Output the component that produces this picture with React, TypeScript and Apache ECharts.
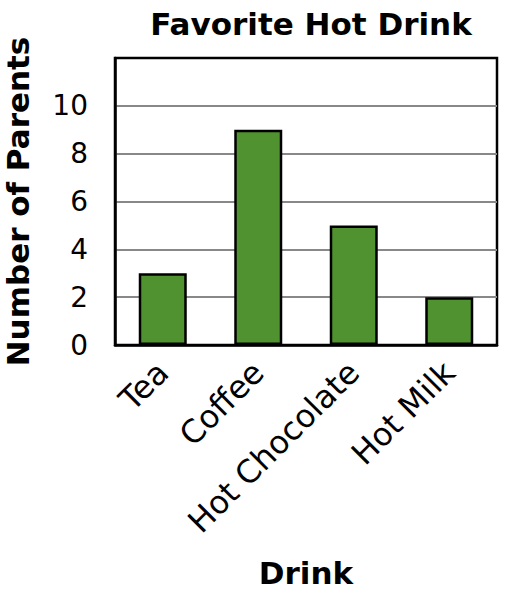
import React, { useEffect, useRef } from "react";
import * as echarts from "echarts";

const categories = ["Tea", "Coffee", "Hot Chocolate", "Hot Milk"];
const values = [3, 9, 5, 2];
const chartTitle = "Favorite Hot Drink";
const xName = "Drink";
const yName = "Number of Parents";

export default function App() {
  const ref = useRef<HTMLDivElement>(null);
  useEffect(() => {
    if (!ref.current) return;
    const chart = echarts.init(ref.current, null, { renderer: "svg" });
    const font = "DejaVu Sans, Verdana, sans-serif";
    chart.setOption({
      animation: false,
      backgroundColor: "#ffffff",
      title: {
        text: chartTitle,
        left: 306,
        textAlign: "center",
        top: 3,
        textStyle: { fontFamily: font, fontSize: 31, fontWeight: "bold", color: "#000" },
      },
      grid: {
        left: 115,
        right: 13,
        top: 58,
        bottom: 249,
        show: true,
        borderColor: "#000",
        borderWidth: 2.5,
        containLabel: false,
        outerBoundsMode: "none",
      },
      xAxis: {
        type: "category",
        data: categories,
        name: xName,
        nameLocation: "middle",
        nameGap: 212,
        nameTextStyle: { fontFamily: font, fontSize: 31, fontWeight: "bold", color: "#000" },
        axisLine: { show: true, lineStyle: { color: "#000", width: 2.5 } },
        axisTick: { show: false },
        axisLabel: {
          rotate: 45,
          fontFamily: font,
          fontSize: 32,
          color: "#000",
          margin: 22,
          interval: 0,
        },
      },
      yAxis: {
        type: "value",
        min: 0,
        max: 12,
        interval: 2,
        name: yName,
        nameLocation: "middle",
        nameGap: 82,
        nameTextStyle: { fontFamily: font, fontSize: 31, fontWeight: "bold", color: "#000" },
        axisLine: { show: true, lineStyle: { color: "#000", width: 2.5 } },
        axisTick: { show: false },
        axisLabel: {
          fontFamily: font,
          fontSize: 28,
          color: "#000",
          margin: 27,
          formatter: (v: number) => (v === 12 ? "" : String(v)),
        },
        splitLine: {
          show: true,
          lineStyle: {
            color: ["#000", "#888", "#888", "#888", "#888", "#888", "#000"],
            width: 2,
          },
        },
      },
      series: [
        {
          type: "bar",
          data: values,
          barWidth: 48,
          itemStyle: { color: "#4f922f", borderColor: "#000", borderWidth: 2.5 },
        },
      ],
    });
    return () => chart.dispose();
  }, []);
  return (
    <div
      ref={ref}
      style={{ position: "fixed", left: 0, top: 0, width: 510, height: 594 }}
    />
  );
}
